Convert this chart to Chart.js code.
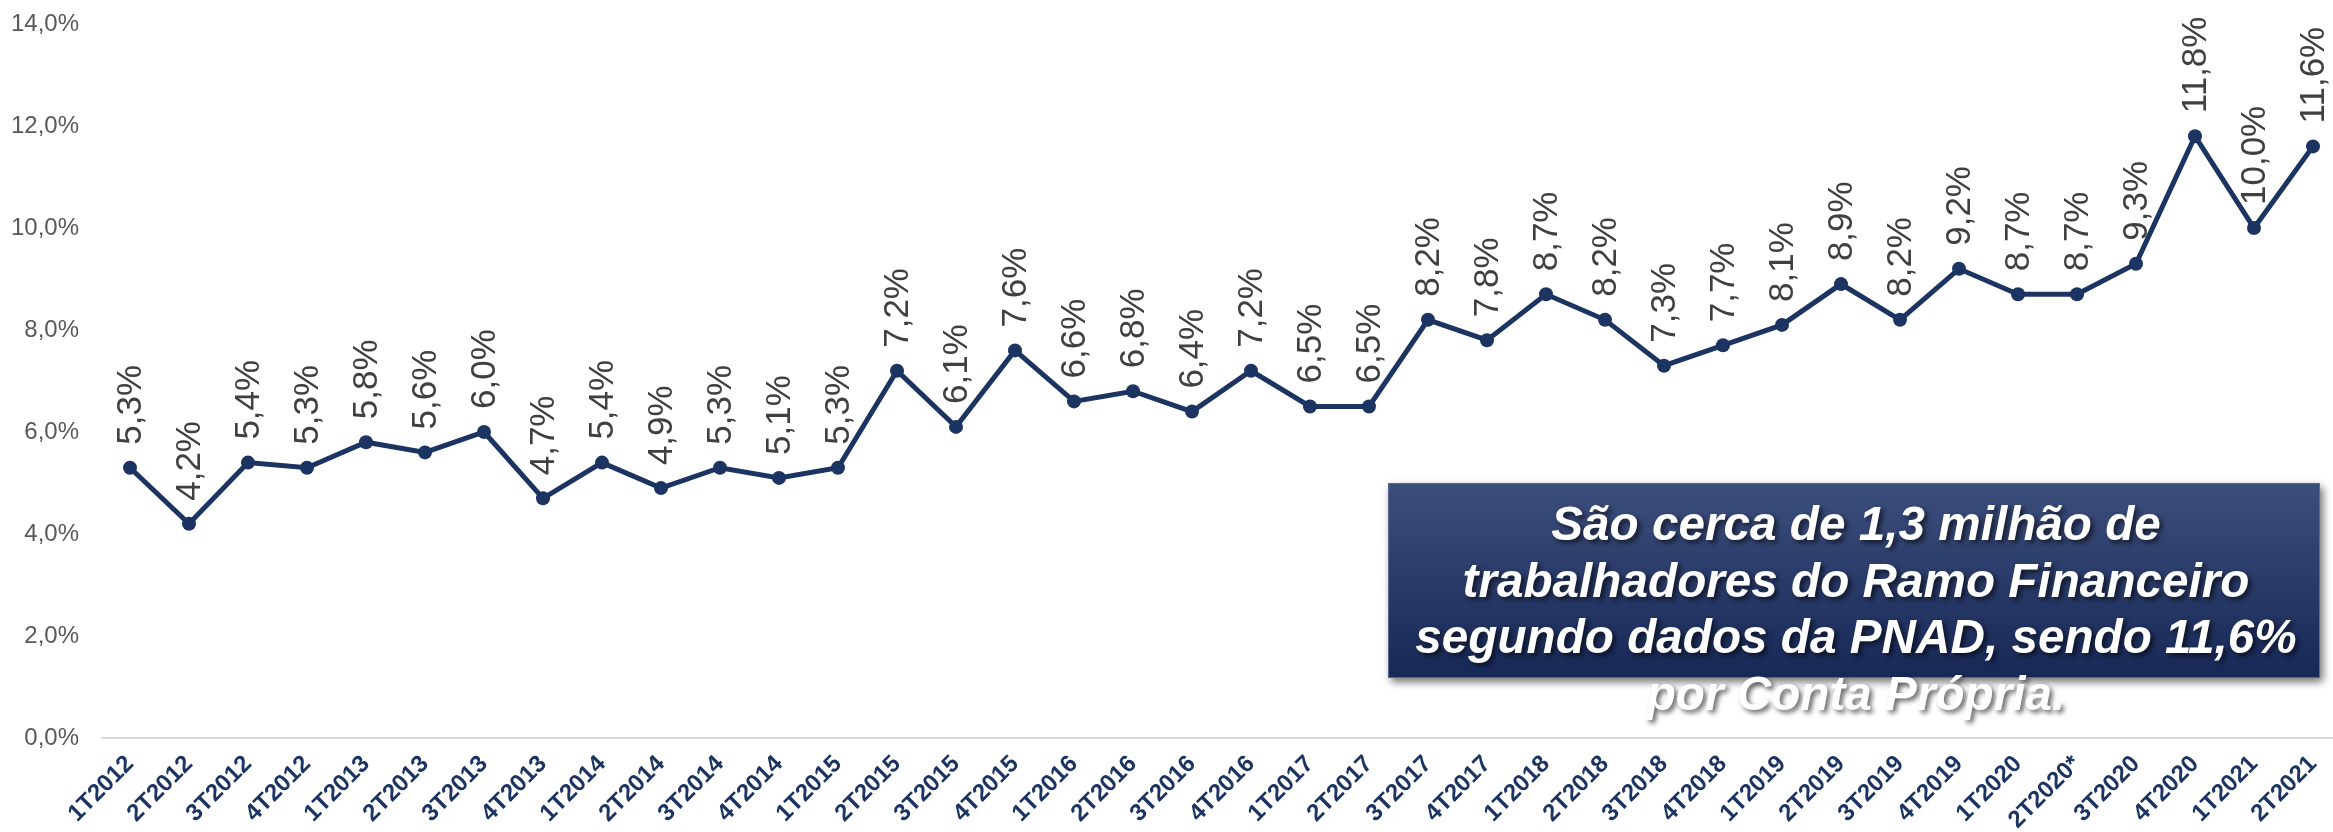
<!DOCTYPE html>
<html><head><meta charset="utf-8">
<script src="https://cdn.jsdelivr.net/npm/chart.js@4"></script>
<style>html,body{margin:0;padding:0;background:#fff;overflow:hidden}#wrap{width:2333px;height:832px;position:relative}</style>
</head><body><div id="wrap"><canvas id="c" width="2333" height="832"></canvas></div>
<script>
const categories = ["1T2012","2T2012","3T2012","4T2012","1T2013","2T2013","3T2013","4T2013","1T2014","2T2014","3T2014","4T2014","1T2015","2T2015","3T2015","4T2015","1T2016","2T2016","3T2016","4T2016","1T2017","2T2017","3T2017","4T2017","1T2018","2T2018","3T2018","4T2018","1T2019","2T2019","3T2019","4T2019","1T2020","2T2020*","3T2020","4T2020","1T2021","2T2021"];
const contaPropriaShare = [5.3,4.2,5.4,5.3,5.8,5.6,6.0,4.7,5.4,4.9,5.3,5.1,5.3,7.2,6.1,7.6,6.6,6.8,6.4,7.2,6.5,6.5,8.2,7.8,8.7,8.2,7.3,7.7,8.1,8.9,8.2,9.2,8.7,8.7,9.3,11.8,10.0,11.6];
const yTickValues = [0,2,4,6,8,10,12,14];
const annotationLines = ["São cerca de 1,3 milhão de","trabalhadores do Ramo Financeiro","segundo dados da PNAD, sendo 11,6%","por Conta Própria."];

const NAVY = '#1c3461';
const fmt = v => v.toFixed(1).replace('.', ',') + '%';

const baselinePlugin = {
  id: 'baseline',
  beforeDatasetsDraw(chart) {
    const ctx = chart.ctx, y = chart.scales.y.getPixelForValue(0);
    ctx.save();
    ctx.strokeStyle = '#d9d9d9'; ctx.lineWidth = 2;
    ctx.beginPath(); ctx.moveTo(101, y); ctx.lineTo(chart.width, y); ctx.stroke();
    ctx.restore();
  }
};

const valueLabelPlugin = {
  id: 'valueLabels',
  afterDatasetsDraw(chart) {
    const ctx = chart.ctx, meta = chart.getDatasetMeta(0);
    ctx.save();
    ctx.font = '35px "Liberation Sans", Arial, sans-serif';
    ctx.fillStyle = '#404040';
    ctx.textAlign = 'left'; ctx.textBaseline = 'middle';
    meta.data.forEach((pt, i) => {
      ctx.save();
      ctx.translate(pt.x + 1, pt.y - 23);
      ctx.rotate(-Math.PI / 2);
      ctx.fillText(fmt(contaPropriaShare[i]), 0, 0);
      ctx.restore();
    });
    ctx.restore();
  }
};

const annotationPlugin = {
  id: 'annotationBox',
  afterDraw(chart) {
    const ctx = chart.ctx;
    const bx = 1388, by = 483, bw = 932, bh = 195;
    ctx.save();
    ctx.shadowColor = 'rgba(0,0,0,0.55)'; ctx.shadowBlur = 8; ctx.shadowOffsetX = 3; ctx.shadowOffsetY = 4;
    const g = ctx.createLinearGradient(0, by, 0, by + bh);
    g.addColorStop(0, '#3c4e7b'); g.addColorStop(1, '#172857');
    ctx.fillStyle = g;
    ctx.fillRect(bx, by, bw, bh);
    ctx.restore();
    ctx.save();
    ctx.strokeStyle = '#5a6a92'; ctx.lineWidth = 1;
    ctx.strokeRect(bx + 0.5, by + 0.5, bw - 1, bh - 1);
    ctx.restore();

    ctx.save();
    ctx.font = 'italic bold 40px "Liberation Sans", Arial, sans-serif';
    const ref = ctx.measureText(annotationLines[2]).width;
    const size = 40 * 882 / ref;
    ctx.font = 'italic bold ' + size.toFixed(1) + 'px "Liberation Sans", Arial, sans-serif';
    const cx = 1856;
    const baselines = [540, 597, 653, 710];
    ctx.textAlign = 'center'; ctx.textBaseline = 'alphabetic';
    ctx.fillStyle = '#ffffff';
    ctx.shadowColor = 'rgba(0,0,0,0.6)'; ctx.shadowBlur = 5; ctx.shadowOffsetX = 3; ctx.shadowOffsetY = 3;
    annotationLines.forEach((t, i) => ctx.fillText(t, cx, baselines[i]));
    ctx.restore();
  }
};

new Chart(document.getElementById('c'), {
  type: 'line',
  data: {
    labels: categories,
    datasets: [{
      data: contaPropriaShare,
      borderColor: NAVY, backgroundColor: NAVY,
      borderWidth: 5, pointRadius: 7, pointBackgroundColor: NAVY, pointBorderWidth: 0,
      tension: 0, fill: false
    }]
  },
  options: {
    responsive: false, animation: false,
    layout: { padding: { top: 24, right: 20, left: 0, bottom: 0 } },
    plugins: { legend: { display: false }, tooltip: { enabled: false } },
    scales: {
      x: {
        offset: false,
        grid: { display: false, drawTicks: false },
        border: { display: false },
        ticks: {
          autoSkip: false, maxRotation: 45, minRotation: 45, padding: 12,
          color: NAVY, font: { family: '"Liberation Sans", Arial, sans-serif', size: 24, weight: 'bold' }
        },
        afterFit(s) { s.height = 94; s.paddingLeft = 0; s.paddingRight = 0; }
      },
      y: {
        min: 0, max: 14,
        afterBuildTicks(s) { s.ticks = yTickValues.map(v => ({ value: v })); },
        grid: { display: false, drawTicks: false },
        border: { display: false },
        ticks: {
          padding: 51, color: '#595959',
          font: { family: '"Liberation Sans", Arial, sans-serif', size: 24 },
          callback: v => fmt(v)
        },
        afterFit(s) { s.width = 130; s.paddingTop = 0; s.paddingBottom = 0; }
      }
    }
  },
  plugins: [baselinePlugin, valueLabelPlugin, annotationPlugin]
});
</script></body></html>
